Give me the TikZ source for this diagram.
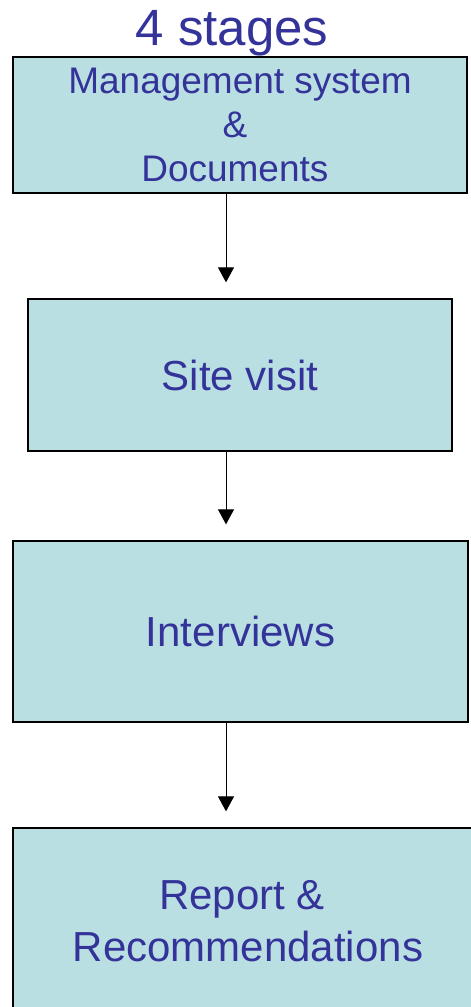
\documentclass[tikz,border=0pt]{standalone}
\usepackage{fontspec}
\setmainfont{Liberation Sans}
\usetikzlibrary{arrows.meta}
\definecolor{txtblue}{HTML}{333399}
\definecolor{boxfill}{HTML}{BADFE2}
\newcommand{\trailsp}{\kern0.278em\mbox{}}
\begin{document}
\begin{tikzpicture}[x=1pt,y=-1pt,
  stagebox/.style={draw=black, line width=1.3pt, fill=boxfill, text=txtblue, inner sep=0pt, align=center},
  arr/.style={line width=1pt, -{Triangle[width=16pt,length=15pt]}, shorten >=16pt}]
\useasboundingbox (0,0) rectangle (471,1007);
\clip (0,0) rectangle (471,1007);
\fill[white] (0,0) rectangle (471,1007);
\coordinate (ax) at (226,0);
\node[anchor=base, text=txtblue, inner sep=0pt, font=\fontsize{51}{60}\selectfont] (title) at (232,45) {4 stages};
\node[stagebox, minimum width=454pt, minimum height=136pt, font=\fontsize{37}{44}\selectfont] (b1) at (240,125) {Management system\\\&\trailsp\\Documents\trailsp};
\node[stagebox, minimum width=424pt, minimum height=152pt, font=\fontsize{42}{50}\selectfont] (b2) at (240,375) {Site visit};
\node[stagebox, minimum width=455pt, minimum height=181pt, font=\fontsize{42}{50}\selectfont] (b3) at (240.5,631.5) {Interviews};
\node[stagebox, minimum width=470pt, minimum height=186pt, font=\fontsize{42}{52}\selectfont] (b4) at (248,921) {Report \&\trailsp\\Recommendations};
\draw[arr] (b1.south -| ax) -- (b2.north -| ax);
\draw[arr] (b2.south -| ax) -- (b3.north -| ax);
\draw[arr] (b3.south -| ax) -- (b4.north -| ax);
\end{tikzpicture}
\end{document}
